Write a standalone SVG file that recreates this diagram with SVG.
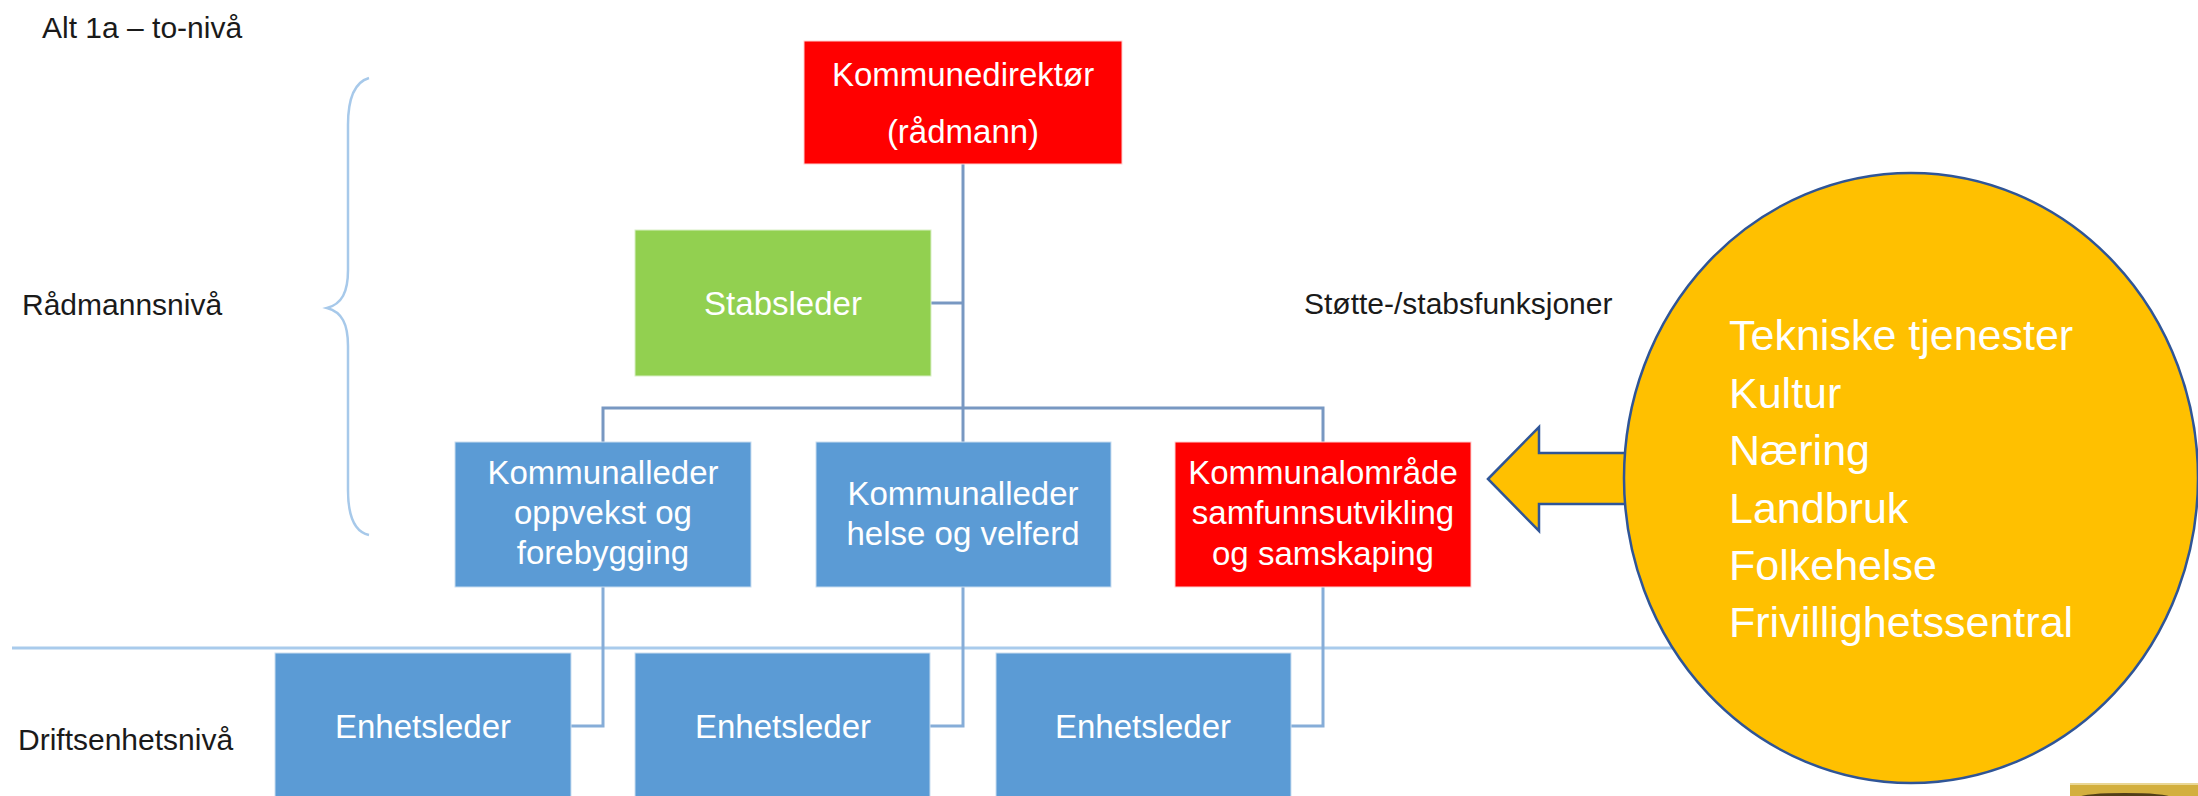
<svg xmlns="http://www.w3.org/2000/svg" width="2198" height="796" viewBox="0 0 2198 796">
  <style>
    .lbl { font-family: "Liberation Sans", Arial, sans-serif; font-size: 30px; fill: #1a1a1a; }
    .bt { font-family: "Liberation Sans", Arial, sans-serif; font-size: 33px; fill: #ffffff; text-anchor: middle; }
    .et { font-family: "Liberation Sans", Arial, sans-serif; font-size: 43px; fill: #ffffff; }
    .red { fill: #FF0000; stroke: #ffd0d0; stroke-width: 1; }
    .blue { fill: #5B9BD5; stroke: #c9ddf0; stroke-width: 1; }
    .green { fill: #92D050; stroke: #d8efc4; stroke-width: 1; }
    .conn { fill: none; stroke: #7898C2; stroke-width: 3; }
    .conn2 { fill: none; stroke: #86ADD8; stroke-width: 3; }
    .divider { fill: none; stroke: #A9CBEC; stroke-width: 3; }
    .brace { fill: none; stroke: #A7C9EA; stroke-width: 2.5; }
  </style>

  <rect x="0" y="0" width="2198" height="796" fill="#ffffff"/>

  <g id="labels">
    <text class="lbl" x="42" y="38">Alt 1a – to-nivå</text>
    <text class="lbl" x="22" y="315">Rådmannsnivå</text>
    <text class="lbl" x="18" y="750">Driftsenhetsnivå</text>
    <text class="lbl" x="1304" y="314">Støtte-/stabsfunksjoner</text>
  </g>

  <path id="brace" class="brace" d="M369,78 C355,82 348,98 348,125 L348,270 C348,292 342,304 327,308 C342,312 348,324 348,346 L348,490 C348,516 355,532 369,535"/>

  <line id="level-divider" class="divider" x1="12" y1="648" x2="1700" y2="648"/>

  <g id="connectors">
    <path class="conn" d="M963,164 L963,408"/>
    <path class="conn" d="M931,303 L963,303"/>
    <path class="conn" d="M603,442 L603,408 L1323,408 L1323,442"/>
    <path class="conn" d="M963,408 L963,442"/>
    <path class="conn2" d="M603,587 L603,726 L571,726"/>
    <path class="conn2" d="M963,587 L963,726 L930,726"/>
    <path class="conn2" d="M1323,587 L1323,726 L1291,726"/>
  </g>

  <g id="kommunedirektor">
    <rect class="red" x="804" y="41" width="318" height="123"/>
    <text class="bt" x="963" y="86">Kommunedirektør</text>
    <text class="bt" x="963" y="143">(rådmann)</text>
  </g>

  <g id="stabsleder">
    <rect class="green" x="635" y="230" width="296" height="146"/>
    <text class="bt" x="783" y="315">Stabsleder</text>
  </g>

  <g id="kommunalleder-oppvekst">
    <rect class="blue" x="455" y="442" width="296" height="145"/>
    <text class="bt" x="603" y="484">Kommunalleder</text>
    <text class="bt" x="603" y="524">oppvekst og</text>
    <text class="bt" x="603" y="564">forebygging</text>
  </g>

  <g id="kommunalleder-helse">
    <rect class="blue" x="816" y="442" width="295" height="145"/>
    <text class="bt" x="963" y="505">Kommunalleder</text>
    <text class="bt" x="963" y="545">helse og velferd</text>
  </g>

  <g id="kommunalomrade">
    <rect class="red" x="1175" y="442" width="296" height="145"/>
    <text class="bt" x="1323" y="484">Kommunalområde</text>
    <text class="bt" x="1323" y="524">samfunnsutvikling</text>
    <text class="bt" x="1323" y="565">og samskaping</text>
  </g>

  <g id="enhetsleder-1">
    <rect class="blue" x="275" y="653" width="296" height="160"/>
    <text class="bt" x="423" y="738">Enhetsleder</text>
  </g>
  <g id="enhetsleder-2">
    <rect class="blue" x="635" y="653" width="295" height="160"/>
    <text class="bt" x="783" y="738">Enhetsleder</text>
  </g>
  <g id="enhetsleder-3">
    <rect class="blue" x="996" y="653" width="295" height="160"/>
    <text class="bt" x="1143" y="738">Enhetsleder</text>
  </g>

  <g id="arrow">
    <polygon points="1488,479 1539,427 1539,453 1650,453 1650,504 1539,504 1539,531" fill="#FFC000" stroke="#2F5597" stroke-width="2.5" stroke-linejoin="miter"/>
  </g>

  <g id="stottefunksjoner">
    <ellipse cx="1911" cy="478" rx="287" ry="305" fill="#FFC000" stroke="#2F5597" stroke-width="2.5"/>
    <text class="et" x="1729" y="350">Tekniske tjenester</text>
    <text class="et" x="1729" y="408">Kultur</text>
    <text class="et" x="1729" y="465">Næring</text>
    <text class="et" x="1729" y="523">Landbruk</text>
    <text class="et" x="1729" y="580">Folkehelse</text>
    <text class="et" x="1729" y="637">Frivillighetssentral</text>
  </g>

  <g id="logo-fragment">
    <rect x="2070" y="783" width="128" height="13" fill="#D3AF3E"/>
    <rect x="2070" y="783" width="128" height="2" fill="#EAD795"/>
    <ellipse cx="2125" cy="797" rx="45" ry="4" fill="#3a2a12" opacity="0.85"/>
  </g>
</svg>
